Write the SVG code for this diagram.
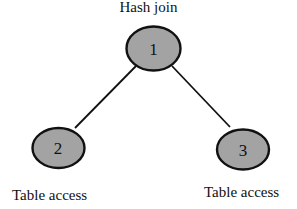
<svg xmlns="http://www.w3.org/2000/svg" width="297" height="209" viewBox="0 0 297 209">
<style>
.node{fill:#a3a3a3;stroke:#111;stroke-width:2.4}
.num{font-family:"Liberation Serif",serif;font-size:17px;fill:#111;text-anchor:middle}
.lbl{font-family:"Liberation Serif",serif;font-size:15px;fill:#111}
.edge{stroke:#111;stroke-width:1.8;fill:none}
</style>
<rect width="297" height="209" fill="#fff"/>
<g id="connectors">
<line class="edge" x1="136" y1="66" x2="75" y2="128"/>
<line class="edge" x1="172" y1="66" x2="230" y2="127"/>
</g>
<g id="node1">
<text class="lbl" x="148.5" y="11.5" text-anchor="middle">Hash join</text>
<ellipse class="node" cx="153.5" cy="48.5" rx="27" ry="22"/>
<text class="num" x="153.5" y="54.5">1</text>
</g>
<g id="node2">
<ellipse class="node" cx="58.5" cy="148" rx="26" ry="20"/>
<text class="num" x="58" y="154">2</text>
<text class="lbl" x="12" y="200">Table access</text>
</g>
<g id="node3">
<ellipse class="node" cx="243" cy="149.5" rx="26" ry="20"/>
<text class="num" x="243" y="155.5">3</text>
<text class="lbl" x="204" y="197">Table access</text>
</g>
</svg>
